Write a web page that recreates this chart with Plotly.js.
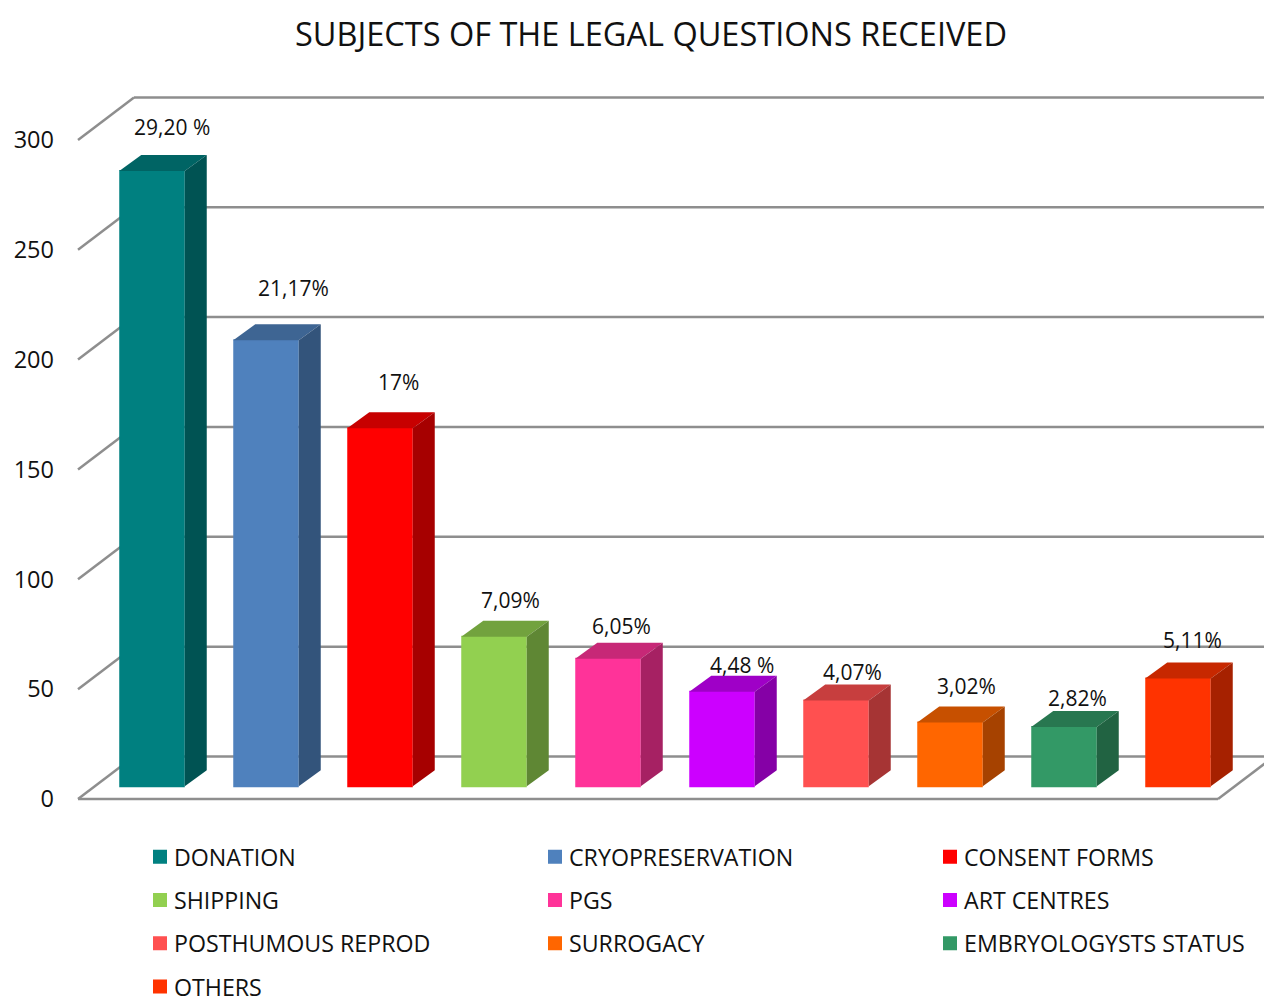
<!DOCTYPE html>
<html><head><meta charset="utf-8">
<script src="https://cdn.plot.ly/plotly-3.0.1.min.js"></script>
<style>html,body{margin:0;padding:0;background:#fff}#chart{width:1264px;height:998px}</style>
</head><body><div id="chart"></div>
<script>
const categories = ['DONATION','CRYOPRESERVATION','CONSENT FORMS','SHIPPING','PGS','ART CENTRES','POSTHUMOUS REPROD','SURROGACY','EMBRYOLOGYSTS STATUS','OTHERS'];
const values = [280,203,163,68,58,43,39,29,27,49];
const percentLabels = ['29,20 %','21,17%','17%','7,09%','6,05%','4,48 %','4,07%','3,02%','2,82%','5,11%'];
const colors = ['#008080','#4F81BD','#FF0000','#92D050','#FF3399','#CC00FF','#FF5050','#FF6600','#339966','#FF3300'];
const yTicks = [0,50,100,150,200,250,300];
const labelDx = [20,27,18,16,13,20,16,16,13,14];
const labelDy = [44,52,46,37,33,27,29,37,29,39];

const FONT = '"Open Sans", sans-serif';
const INK = '#111111', GRID = '#8e8e8e';
const pitch = 114, pxPerUnit = 2.197;
const wallDx = 56/pitch, wallDy = 42.5/pxPerUnit;   // back wall offset
const barDx = 22/pitch, barDy = 16/pxPerUnit;       // bar depth
const barBase = 5.8, barW = 63.5/pitch, hw = 65.5/pitch/2;
const floorEnd = (1218-152)/pitch, floorStart = (78-152)/pitch;

function shade(hex,f){
  const n = parseInt(hex.slice(1),16);
  return 'rgb('+[n>>16&255,n>>8&255,n&255].map(c=>Math.round(c*f)).join(',')+')';
}
const traces = [];
categories.forEach((name,i)=>{
  traces.push({type:'bar',x:[i],y:[values[i]],base:[barBase],width:[barW],name:'<span style="font-size:23.2px">'+name+'</span>',
    marker:{color:colors[i],line:{color:colors[i],width:2}},hoverinfo:'skip',showlegend:true});
});
categories.forEach((name,i)=>{
  const top = barBase+values[i], l=i-hw, r=i+hw;
  traces.push({type:'scatter',mode:'lines',x:[l,r,r+barDx,l+barDx,l],y:[top,top,top+barDy,top+barDy,top],
    fill:'toself',fillcolor:shade(colors[i],0.78),line:{width:0},hoverinfo:'skip',showlegend:false});
  traces.push({type:'scatter',mode:'lines',x:[r,r+barDx,r+barDx,r,r],y:[barBase,barBase+barDy,top+barDy,top,barBase],
    fill:'toself',fillcolor:shade(colors[i],0.65),line:{width:0},hoverinfo:'skip',showlegend:false});
});
const lineStyle = {color:GRID,width:2.5};
const shapes = [];
const seg=(x0,y0,x1,y1)=>({type:'line',xref:'x',yref:'y',x0,y0,x1,y1,layer:'below',line:lineStyle});
yTicks.forEach(v=>{
  shapes.push(seg(floorStart,v,floorStart+wallDx,v+wallDy));
  shapes.push(seg(floorStart+wallDx,v+wallDy,11,v+wallDy));
});
shapes.push(seg(floorStart,0,floorEnd,0));
shapes.push(seg(floorEnd,0,floorEnd+wallDx,wallDy));

const annotations = categories.map((_,i)=>({
  x:i,y:barBase+values[i],xref:'x',yref:'y',text:percentLabels[i],showarrow:false,
  xshift:labelDx[i],yshift:labelDy[i],xanchor:'center',yanchor:'middle',
  font:{family:FONT,size:21,color:INK}
}));

const layout = {
  width:1264,height:998,paper_bgcolor:'#fff',plot_bgcolor:'#fff',
  margin:{l:70,r:0,t:90,b:193,pad:0},
  title:{text:'SUBJECTS OF THE LEGAL QUESTIONS RECEIVED',x:651/1264,xref:'container',xanchor:'center',
    y:1-35/998,yref:'container',yanchor:'middle',font:{family:FONT,size:32.5,color:INK}},
  barmode:'overlay',showlegend:true,
  xaxis:{visible:false,range:[(70-152)/pitch,(1264-152)/pitch],fixedrange:true},
  yaxis:{range:[-6/pxPerUnit,(799-90)/pxPerUnit],tickvals:yTicks,ticktext:yTicks.map(String),showgrid:false,zeroline:false,
    showline:false,ticks:'',ticklabelstandoff:15,tickfont:{family:FONT,size:23.5,color:INK},fixedrange:true},
  legend:{orientation:'h',xref:'container',yref:'container',x:134/1264,xanchor:'left',y:1-827/998,yanchor:'top',entrywidth:350,entrywidthmode:'pixels',
    traceorder:'normal',itemclick:false,itemdoubleclick:false,bgcolor:'rgba(0,0,0,0)',
    font:{family:FONT,size:31,color:INK}},
  shapes,annotations
};
Plotly.newPlot('chart',traces,layout,{displayModeBar:false}).then(gd=>{
  gd.querySelectorAll('.legend .legendsymbols').forEach(s=>s.setAttribute('transform','translate(6,3)'));
});
</script></body></html>
